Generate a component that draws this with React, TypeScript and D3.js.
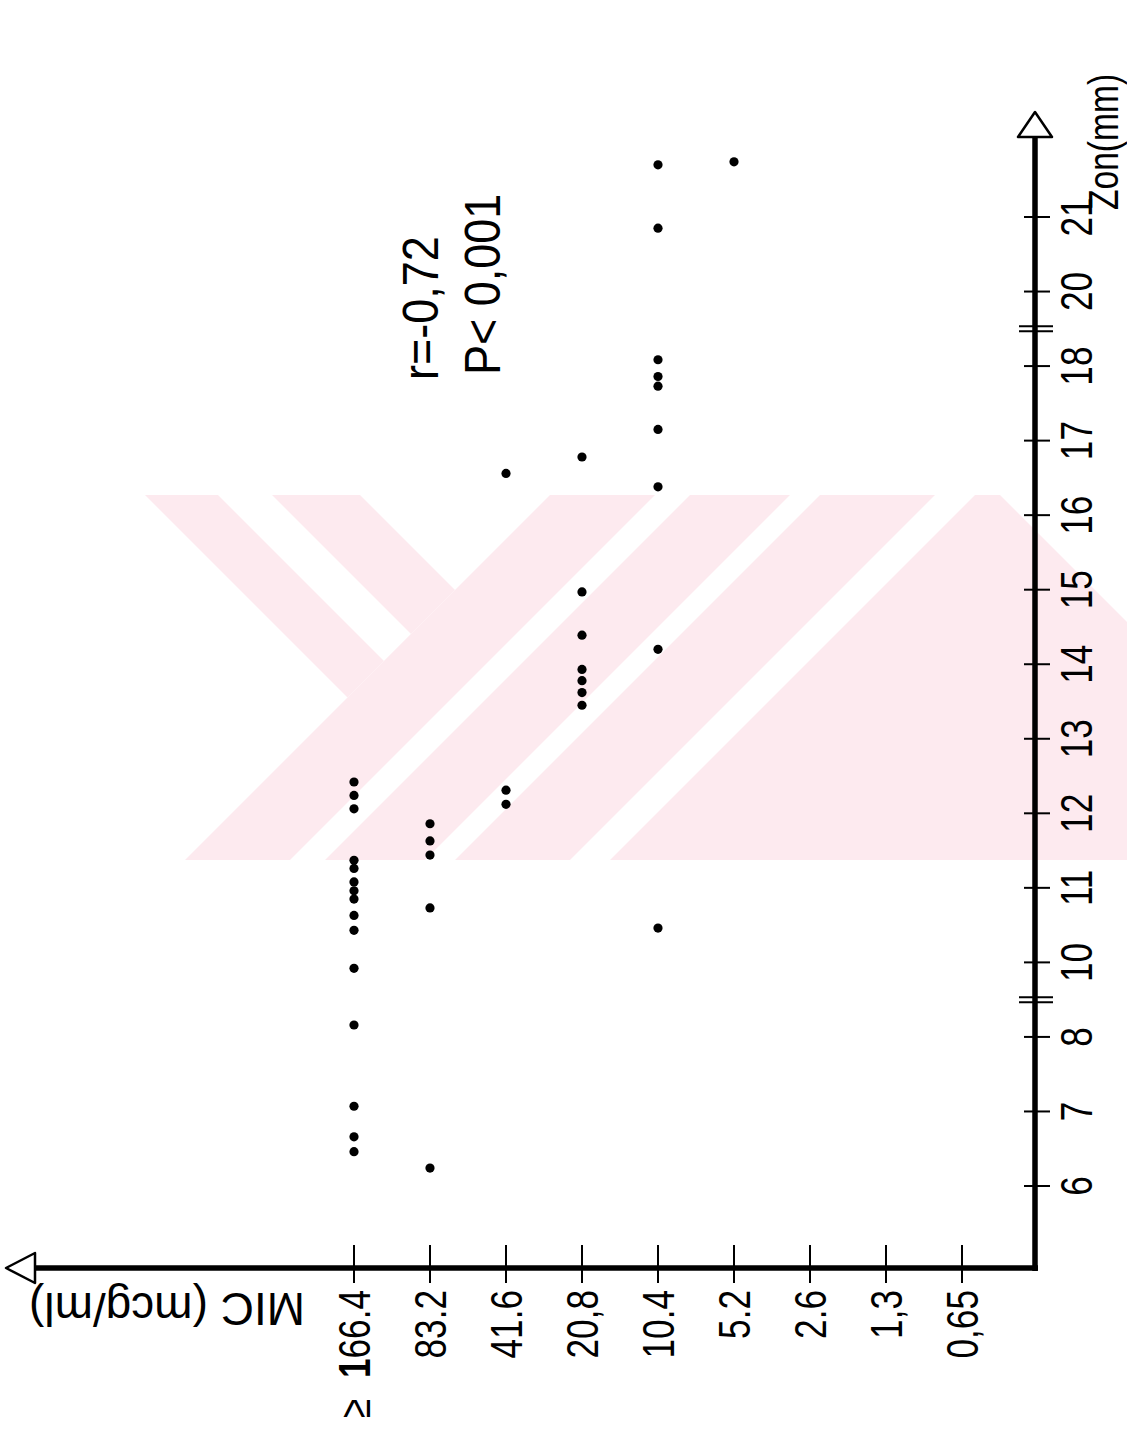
import React from "react";
import * as d3 from "d3";

// ---- data ----
const zonTicks = [6, 7, 8, 10, 11, 12, 13, 14, 15, 16, 17, 18, 20, 21];
const zonBreaks = [9, 19];
const micTicks = [166.4, 83.2, 41.6, 20.8, 10.4, 5.2, 2.6, 1.3, 0.65];
const micTickLabels = ["166.4", "83.2", "41.6", "20,8", "10.4", "5.2", "2.6", "1,3", "0,65"];

// Zone diameters (mm) of the isolates at each MIC level
const zonAt166 = [12.42, 12.24, 12.06, 11.37, 11.26, 11.08, 10.96, 10.85, 10.63, 10.43, 9.84, 8.32, 7.07, 6.66, 6.46];
const zonAt83 = [11.86, 11.63, 11.44, 10.73, 6.24];
const zonAt41 = [16.56, 12.31, 12.12];
const zonAt20 = [16.78, 14.97, 14.39, 13.93, 13.78, 13.62, 13.45];
const zonAt10 = [21.7, 20.85, 18.17, 17.86, 17.73, 17.15, 16.38, 14.2, 10.46];
const zonAt5 = [21.74];

const statR = "r=-0,72";
const statP = "P< 0,001";
const xTitle = "Zon(mm)";
const yTitle = "MIC (mcg/ml)";

const W = 1127;
const H = 1448;

export default function App() {
  // chart is laid out in its own (unrotated) frame and then turned 90° counter-clockwise
  const originX = 180;
  const originY = 1035;
  const x0 = 262;
  const step = (1231 - 262) / 13;
  // piecewise scale: axis is broken between 8–10 and 18–20
  const xScale = d3
    .scaleLinear()
    .domain([6, 8, 10, 18, 20, 21])
    .range([0, 2, 3, 11, 12, 13].map((u) => x0 + u * step));
  const yScale = d3.scaleLog().base(2).domain([0.65, 166.4]).range([962, 354]);

  const groups: [number, number[]][] = [
    [166.4, zonAt166],
    [83.2, zonAt83],
    [41.6, zonAt41],
    [20.8, zonAt20],
    [10.4, zonAt10],
    [5.2, zonAt5],
  ];
  const points = groups.flatMap(([mic, zs]) => zs.map((z) => ({ mic, z })));

  const font = "'Liberation Sans', Arial, sans-serif";
  const pink = "#fdeaef";

  // watermark (screen coordinates)
  const wmTop = 495;
  const wmBot = 860;
  const band = (a: number, b: number) =>
    `${a - wmTop},${wmTop} ${b - wmTop},${wmTop} ${b - wmBot},${wmBot} ${a - wmBot},${wmBot}`;
  const whiteStripes: [number, number][] = [
    [1150, 1185],
    [1285, 1315],
    [1430, 1470],
  ];

  return (
    <svg
      width={W}
      height={H}
      style={{ position: "absolute", left: 0, top: 0, background: "#fff" }}
      fontFamily={font}
    >
      <defs>
        <clipPath id="wmclip">
          <rect x={140} y={wmTop} width={W - 140} height={wmBot - wmTop} />
        </clipPath>
      </defs>
      <g clipPath="url(#wmclip)">
        <polygon points={`145,495 360,495 455,590 347.5,697.5`} fill={pink} />
        <polygon points={`218,495 272,495 411,634 384,661`} fill="#fff" />
        <polygon points={`550,495 1000,495 1127,622 1127,860 185,860`} fill={pink} />
        {whiteStripes.map(([a, b], i) => (
          <polygon key={i} points={band(a, b)} fill="#fff" />
        ))}
      </g>

      <g transform={`translate(0,${H}) rotate(-90)`}>
        {/* Zon axis */}
        <line x1={originX - 3} y1={originY} x2={1312} y2={originY} stroke="#000" strokeWidth={5.5} />
        <polygon
          points={`1336,${originY} 1311,${originY - 17} 1311,${originY + 17}`}
          fill="#fff"
          stroke="#000"
          strokeWidth={2.5}
          strokeLinejoin="round"
        />
        {/* MIC axis */}
        <line x1={originX} y1={originY + 3} x2={originX} y2={34} stroke="#000" strokeWidth={5.5} />
        <polygon
          points={`${originX},6 ${originX - 15},35 ${originX + 15},35`}
          fill="#fff"
          stroke="#000"
          strokeWidth={2.5}
          strokeLinejoin="round"
        />

        {zonTicks.map((t) => (
          <g key={"zt" + t}>
            <line x1={xScale(t)} x2={xScale(t)} y1={originY - 11} y2={originY + 15} stroke="#000" strokeWidth={2} />
            <text
              transform={`translate(${xScale(t)},${originY + 57}) scale(0.8,1)`}
              textAnchor="middle"
              fontSize={44}
            >
              {t}
            </text>
          </g>
        ))}
        {zonBreaks.map((b) => (
          <g key={"zb" + b}>
            <line x1={xScale(b) - 2.5} x2={xScale(b) - 2.5} y1={originY - 16} y2={originY + 18} stroke="#000" strokeWidth={2} />
            <line x1={xScale(b) + 2.5} x2={xScale(b) + 2.5} y1={originY - 16} y2={originY + 18} stroke="#000" strokeWidth={2} />
          </g>
        ))}

        {micTicks.map((t, i) => (
          <g key={"mt" + t}>
            <line x1={originX - 15} x2={originX + 23} y1={yScale(t)} y2={yScale(t)} stroke="#000" strokeWidth={2} />
            <text
              transform={`translate(${originX - 22},${yScale(t)}) scale(0.8,1)`}
              textAnchor="end"
              dy="0.36em"
              fontSize={44}
            >
              {i === 0 ? (
                <>
                  <tspan>≥</tspan>
                  <tspan dx={26} fontWeight="bold">1</tspan>
                  <tspan>{micTickLabels[i].slice(1)}</tspan>
                </>
              ) : (
                micTickLabels[i]
              )}
            </text>
          </g>
        ))}

        {/* axis titles */}
        <text transform={`translate(1238,1118) scale(0.8,1)`} fontSize={42}>
          {xTitle}
        </text>
        <text transform={`translate(155,305) rotate(-90)`} fontSize={46}>
          {yTitle}
        </text>

        {/* statistics */}
        <text transform={`translate(1068,438) scale(0.9,1)`} fontSize={50}>
          {statR}
        </text>
        <text transform={`translate(1073,500) scale(0.9,1)`} fontSize={50}>
          {statP}
        </text>

        {/* points */}
        {points.map((p, i) => (
          <circle key={i} cx={xScale(p.z)} cy={yScale(p.mic)} r={4.6} fill="#000" />
        ))}
      </g>
    </svg>
  );
}
